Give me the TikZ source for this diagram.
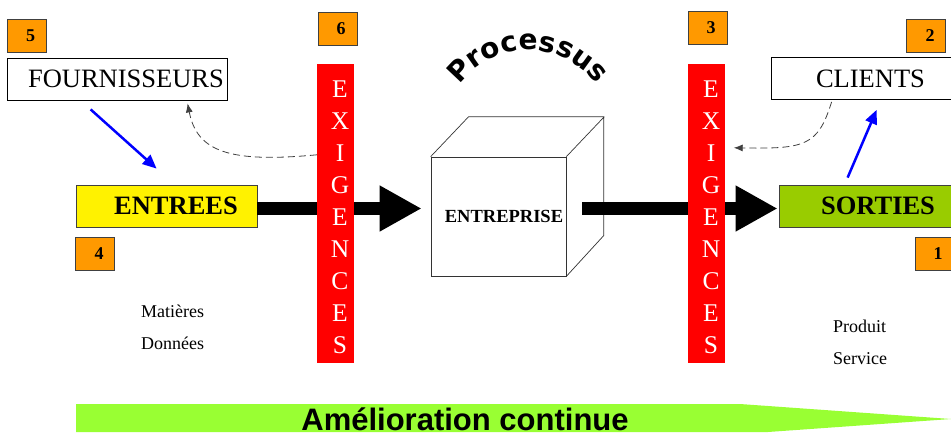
\documentclass[tikz,border=0pt]{standalone}
\usepackage{fontspec}
\setmainfont{Liberation Serif}
\setsansfont{Liberation Sans}
\newfontfamily\procfont{DejaVu Sans}
\usetikzlibrary{arrows.meta,decorations.text,calc}
\definecolor{orangebox}{RGB}{255,153,0}
\definecolor{sortgreen}{RGB}{153,204,0}
\definecolor{amgreen}{RGB}{153,255,51}
\definecolor{exred}{RGB}{255,0,0}
\begin{document}
\begin{tikzpicture}[x=1pt,y=-1pt,
  numbox/.style={draw=black!75, fill=orangebox, line width=0.8pt, minimum width=39pt, minimum height=33pt, inner sep=0pt, font=\fontsize{18}{18}\selectfont\bfseries},
  whitebox/.style={draw=black, fill=white, line width=0.8pt, minimum height=42pt, inner sep=0pt, font=\fontsize{26.5}{26.5}\selectfont},
  iobox/.style={draw=black!75, line width=0.8pt, minimum width=181pt, minimum height=42pt, inner sep=0pt, font=\fontsize{26.5}{26.5}\selectfont\bfseries},
  exbar/.style={fill=exred, minimum width=37pt, minimum height=299pt, inner sep=0pt},
  exletters/.style={text=white, align=center, font=\fontsize{25.5}{32}\selectfont, inner sep=0pt},
  bigarrow/.style={line width=13pt, -{Triangle[length=42pt,width=43pt]}},
  bluearrow/.style={draw=blue, line width=2.5pt, -{Triangle[length=14pt,width=12pt]}},
  dasharrow/.style={draw=black!75, line width=0.8pt, dash pattern=on 7pt off 4pt, -{Latex[length=9pt,width=7pt]}},
  smalltext/.style={anchor=base west, inner sep=0pt, font=\fontsize{18}{18}\selectfont},
]
\useasboundingbox (0,0) rectangle (951,432);

% numbered boxes
\node[numbox] (n5) at (26.5,35.5) {\hspace*{8pt}5};
\node[numbox] (n6) at (337.5,28.5) {\hspace*{7pt}6};
\node[numbox] (n3) at (707.5,28) {\hspace*{7pt}3};
\node[numbox] (n2) at (926,35.5) {\hspace*{8pt}2};
\node[numbox] (n4) at (95,254) {\hspace*{8pt}4};
\node[numbox] (n1) at (934.5,254) {\hspace*{7pt}1};

% white boxes
\node[whitebox, minimum width=220pt] (four) at (117,79) {\hspace*{18pt}FOURNISSEURS};
\node[whitebox, minimum width=181pt] (cli) at (861.5,78.5) {\hspace*{18pt}CLIENTS};

% input / output boxes
\node[iobox, fill=yellow] (ent) at (166.5,206) {\hspace*{19pt}ENTREES};
\node[iobox, fill=sortgreen] (sor) at (869.5,206) {\hspace*{17pt}SORTIES};

% cube
\node[draw=black!80, fill=white, line width=0.7pt, minimum width=135pt, minimum height=119pt, inner sep=0pt,
      font=\fontsize{18.5}{18.5}\selectfont\bfseries] (cube) at (498.5,216.5) {\hspace*{11pt}ENTREPRISE};
\draw[black!80, line width=0.7pt] (cube.north west) -- ++(38,-40) -- ++(135,0) -- ++(0,119) -- (cube.south east)
      (cube.north east) -- ++(38,-40);

% big arrows
\draw[bigarrow] ($(ent.east)+(0,2.5)$) -- ($(cube.west)+(-9,-8)$);
\draw[bigarrow] ($(cube.east)+(16,-8)$) -- ($(sor.west)+(-1,2.5)$);

% exigences bars
\node[exbar] (ex1) at (335.5,213.5) {};
\node[exbar] (ex2) at (706,213.5) {};
\node[exletters] (exl1) at (340,217.5) {E\\X\\I\\G\\E\\N\\C\\E\\S};
\node[exletters] (exl2) at (711,217.5) {E\\X\\I\\G\\E\\N\\C\\E\\S};

% blue arrows
\coordinate (b1s) at ($(four.south west)+(84,9)$);
\coordinate (b1e) at ($(ent.north west)+(81,-16)$);
\draw[bluearrow] (b1s) -- (b1e);
\coordinate (b2s) at ($(sor.north west)+(69,-7)$);
\coordinate (b2e) at ($(cli.south west)+(106,10)$);
\draw[bluearrow] (b2s) -- (b2e);

% dashed arrows
\coordinate (d1s) at ($(ex1.north west)+(0,91)$);
\coordinate (d1e) at ($(four.south west)+(181,3)$);
\draw[dasharrow] (d1s) .. controls (230,163) and (197,152) .. (d1e);
\coordinate (d2s) at ($(cli.south west)+(61,2)$);
\coordinate (d2e) at ($(ex2.north east)+(9,84)$);
\draw[dasharrow] (d2s) .. controls (818,146) and (805,149) .. (d2e);

% Processus
\path[decorate, decoration={text along path, text align=center,
   text={|\procfont\bfseries\fontsize{28}{28}\selectfont|Processus}}]
   (443,135) arc[start angle=180, end angle=360, radius=85];

% side texts
\node[smalltext] (mat) at (141,317) {Matières};
\node[smalltext] (don) at (141,349) {Données};
\node[smalltext] (pro) at (833,332) {Produit};
\node[smalltext] (ser) at (833,364) {Service};

% amelioration continue
\fill[amgreen] (76,404) -- (740,404) -- (951,419) -- (768,432) -- (76,432) -- cycle;
\node[anchor=base, inner sep=0pt, font=\sffamily\bfseries\fontsize{31}{31}\selectfont] (amel) at (465,430) {Amélioration continue};
\end{tikzpicture}
\end{document}
